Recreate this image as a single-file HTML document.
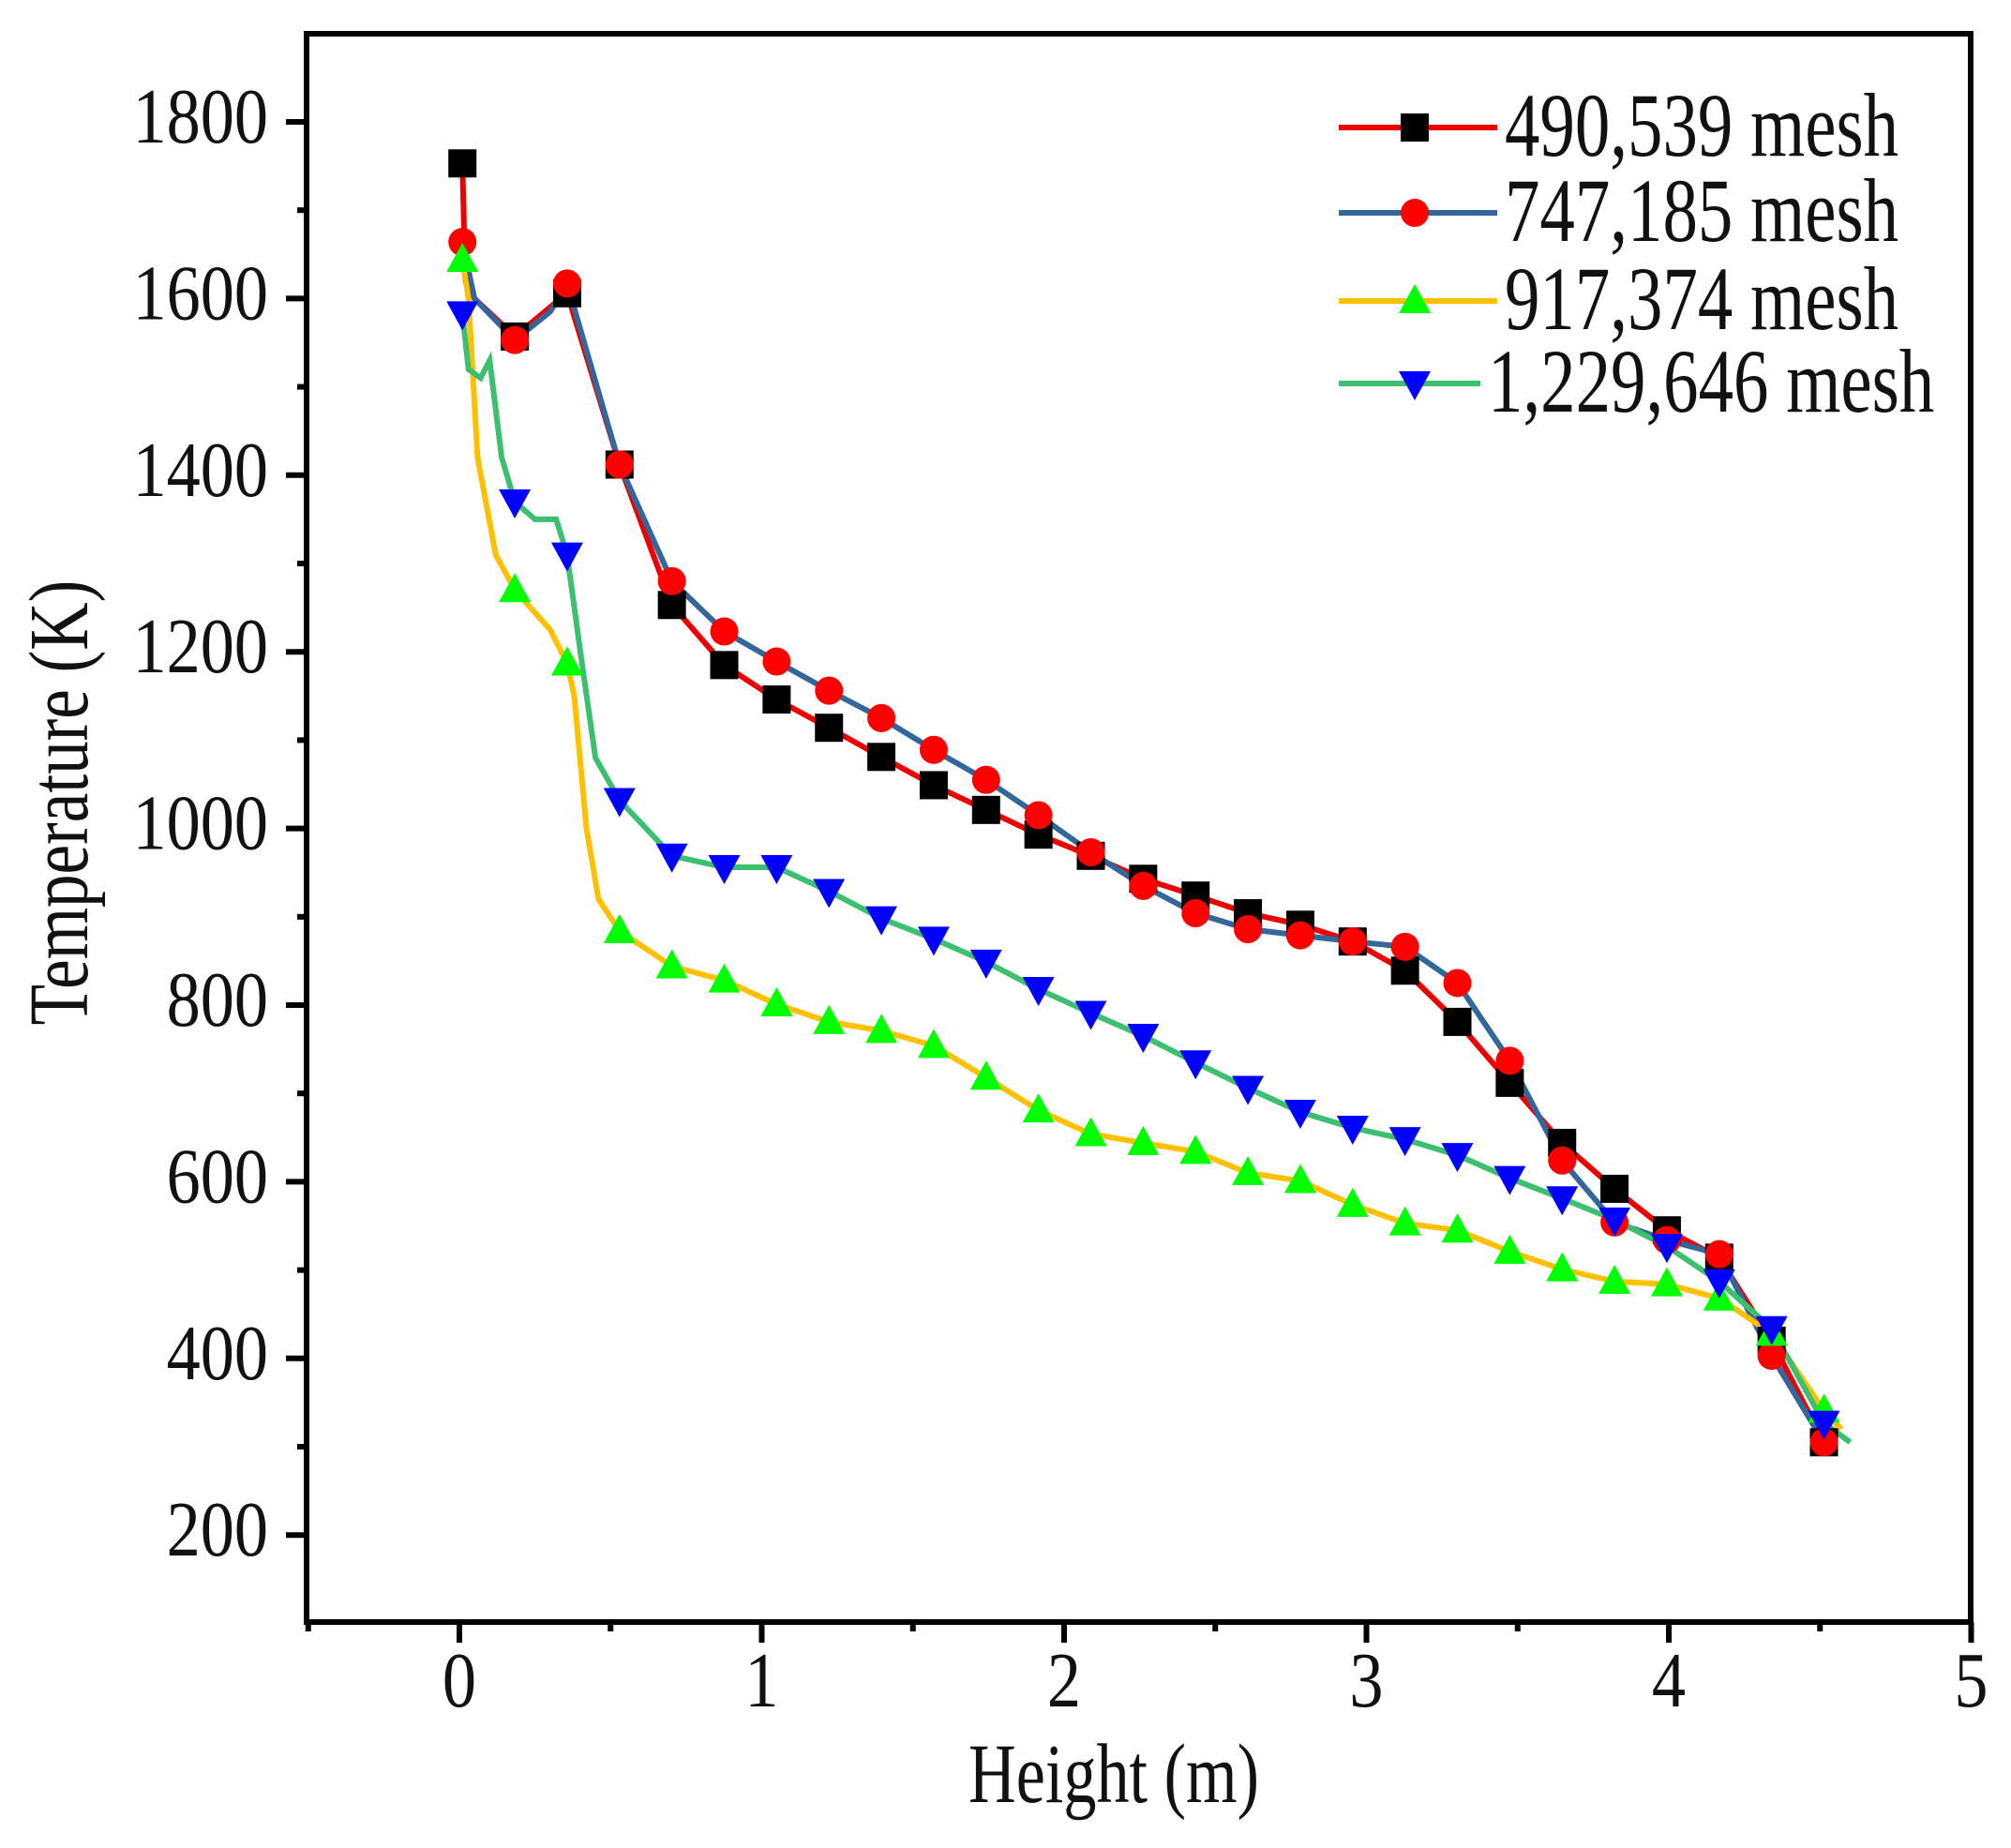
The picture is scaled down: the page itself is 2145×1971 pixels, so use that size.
<!DOCTYPE html>
<html><head><meta charset="utf-8">
<style>
html,body{margin:0;padding:0;background:#fff;}
svg{display:block;}
text{font-family:"Liberation Serif",serif;fill:#111;}
</style></head>
<body>
<svg id="s" width="2145" height="1971" viewBox="0 0 2145 1971" xmlns="http://www.w3.org/2000/svg">
<rect width="2145" height="1971" fill="#fff"/>
<g id="axes"></g>
<g id="series"></g>
<g id="legend"></g>
</svg>
<script>
var NS="http://www.w3.org/2000/svg";
function el(p,t,a,txt){var e=document.createElementNS(NS,t);for(var k in a)e.setAttribute(k,a[k]);if(txt!==undefined)e.textContent=txt;p.appendChild(e);return e;}
function X(h){return 490+322.5*h;}
function Y(T){return 130+(1800-T)*0.942;}
var ax=document.getElementById('axes');
var L=327,R=2102,T0=36,B=1730;
el(ax,'rect',{x:L,y:T0,width:R-L,height:B-T0,fill:'none',stroke:'#000','stroke-width':6});
for(var v=200;v<=1800;v+=100){
  var y=Y(v);
  if(v%200==0){el(ax,'line',{x1:L-22,y1:y,x2:L,y2:y,stroke:'#000','stroke-width':6});
    el(ax,'text',{x:286,y:y+22,'text-anchor':'end','font-size':84,transform:'translate(286,0) scale(0.86,1) translate(-286,0)'},String(v));}
  else el(ax,'line',{x1:L-10,y1:y,x2:L,y2:y,stroke:'#000','stroke-width':6});
}
for(var i=-1;i<=10;i++){
  var h=i/2,x=X(h);
  if(i%2==0){el(ax,'line',{x1:x,y1:B,x2:x,y2:B+22,stroke:'#000','stroke-width':6});
    el(ax,'text',{x:x,y:1820,'text-anchor':'middle','font-size':84,transform:'translate('+x+',0) scale(0.86,1) translate('+(-x)+',0)'},String(h));}
  else el(ax,'line',{x1:x,y1:B,x2:x,y2:B+10,stroke:'#000','stroke-width':6});
}
el(ax,'text',{x:1188,y:1922,'text-anchor':'middle','font-size':90,transform:'translate(1188,0) scale(0.78,1) translate(-1188,0)'},'Height (m)');
el(ax,'text',{x:0,y:0,'text-anchor':'middle','font-size':90,transform:'translate(93,856) rotate(-90) scale(0.79,1)'},'Temperature (K)');

var step=0.1732;
function hs(i){return 0.01+step*i;}
var black=[1753,1557,1606,1412,1253,1185,1146,1114,1081,1049,1021,993,969,943,924,904,891,872,839,781,712,644,592,545,514,420,305];
var red=[1664,1553,1617,1412,1280,1223,1189,1156,1125,1089,1055,1015,973,935,904,886,879,872,866,825,737,624,554,534,518,403,305];
var green=[1644,1270,1187,884,844,828,801,781,771,754,718,681,654,644,634,610,601,574,553,545,521,501,487,484,468,428,341];
var blue=[1583,1370,1310,1032,969,956,956,929,898,875,849,818,791,765,735,706,679,661,648,630,604,581,557,527,487,434,327];

function pts(arr){return arr.map(function(t,i){return [hs(i),t];});}
var sg=document.getElementById('series');
function line(p,col){var d=p.map(function(q,i){return (i?'L':'M')+X(q[0]).toFixed(1)+' '+Y(q[1]).toFixed(1);}).join(' ');
  el(sg,'path',{d:d,fill:'none',stroke:col,'stroke-width':6,'stroke-linejoin':'miter'});}
var pBlack=pts(black); pBlack.splice(1,0,[0.02,1620],[0.05,1600]);
var pRed=pts(red); pRed.splice(1,0,[0.05,1600]); pRed.splice(3,0,[0.3,1585]);
var g=pts(green);
var pGreen=[g[0],[0.03,1600],[0.06,1420],[0.12,1310],g[1],[0.3,1225],g[2],[0.38,1150],[0.42,1000],[0.46,920]].concat(g.slice(3));
pGreen.push([4.57,320]);
var b=pts(blue);
var pBlue=[b[0],[0.03,1520],[0.07,1510],[0.1,1530],[0.14,1420],b[1],[0.25,1350],[0.32,1350],b[2],[0.4,1200],[0.45,1080]].concat(b.slice(3));
pBlue.push([4.6,305]);
line(pBlack,'#ee0000');
line(pRed,'#336699');
line(pGreen,'#ffc000');
line(pBlue,'#3cc070');

var S=15;
function sq(x,y,c){el(sg,'rect',{x:x-S,y:y-S,width:2*S,height:2*S,fill:c});}
function circ(x,y,c){el(sg,'circle',{cx:x,cy:y,r:S,fill:c});}
function up(x,y,c){el(sg,'polygon',{points:(x)+','+(y-S-3)+' '+(x+S+2)+','+(y+S-2)+' '+(x-S-2)+','+(y+S-2),fill:c});}
function dn(x,y,c){el(sg,'polygon',{points:(x)+','+(y+S+3)+' '+(x+S+2)+','+(y-S+2)+' '+(x-S-2)+','+(y-S+2),fill:c});}
black.forEach(function(t,i){sq(X(hs(i)),Y(t),'#000');});
red.forEach(function(t,i){circ(X(hs(i)),Y(t),'#ff0000');});
green.forEach(function(t,i){up(X(hs(i)),Y(t),'#00ff00');});
blue.forEach(function(t,i){dn(X(hs(i)),Y(t),'#0000ff');});

var lg=document.getElementById('legend');
var rows=[[136,'#ee0000',sq,'#000','490,539 mesh',1605],[227,'#336699',circ,'#ff0000','747,185 mesh',1605],[321,'#ffc000',up,'#00ff00','917,374 mesh',1605],[409,'#3cc070',dn,'#0000ff','1,229,646 mesh',1587]];
rows.forEach(function(r){
  el(lg,'line',{x1:1428,y1:r[0],x2:r[5]-8,y2:r[0],stroke:r[1],'stroke-width':6});
  var gg=sg; sg=lg; r[2](1509,r[0],r[3]); sg=gg;
  el(lg,'text',{x:r[5],y:r[0]+30,'font-size':96,transform:'translate('+r[5]+',0) scale(0.78,1) translate('+(-r[5])+',0)'},r[4]);
});
</script>
</body></html>
